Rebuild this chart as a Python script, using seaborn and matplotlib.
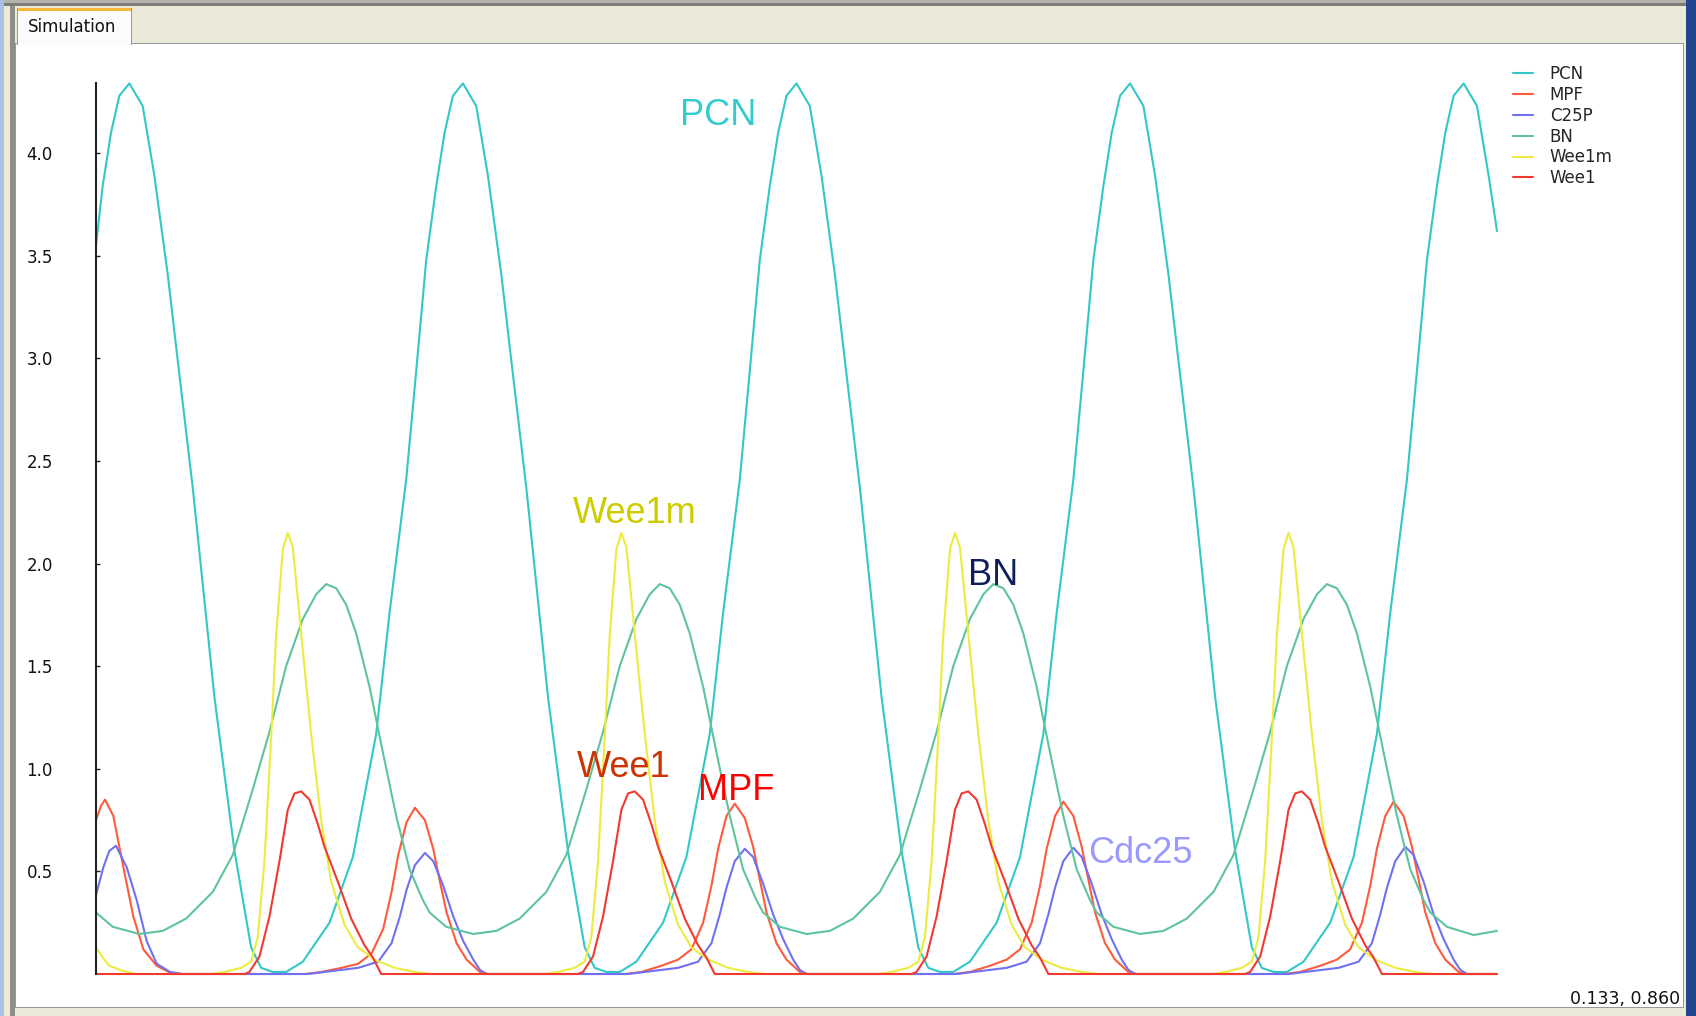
import matplotlib.pyplot as plt
import matplotlib.patches as mpatches
from matplotlib.lines import Line2D
import seaborn as sns
import pandas as pd

W, H = 1696, 1016

# series in legend order, colours
species = ['PCN', 'MPF', 'C25P', 'BN', 'Wee1m', 'Wee1']
colors = {'PCN': '#33C8C8', 'MPF': '#FF5A3C', 'C25P': '#7070F2',
          'BN': '#5EC49E', 'Wee1m': '#ECEC40', 'Wee1': '#F03A30'}

# simulation output (time in arbitrary units, ~100 per cycle)
pcn_t = [0,
         2, 4.5, 7, 10, 14, 17.5, 21.5, 24.5, 29, 35.5, 41.5, 46.5, 49.5, 53, 57, 62, 70, 77, 84, 88, 93, 96, 99,
         102, 104.5, 107, 110, 114, 117.5, 121.5, 124.5, 129, 135.5, 141.5, 146.5, 149.5, 153, 157, 162, 170, 177, 184, 188, 193, 196, 199,
         202, 204.5, 207, 210, 214, 217.5, 221.5, 224.5, 229, 235.5, 241.5, 246.5, 249.5, 253, 257, 262, 270, 277, 284, 288, 293, 296, 299,
         302, 304.5, 307, 310, 314, 317.5, 321.5, 324.5, 329, 335.5, 341.5, 346.5, 349.5, 353, 357, 362, 370, 377, 384, 388, 393, 396, 399,
         402, 404.5, 407, 410, 414, 417.5, 420]
pcn_v = [3.55,
         3.84, 4.10, 4.28, 4.34, 4.23, 3.89, 3.41, 2.99, 2.37, 1.35, 0.60, 0.13, 0.03, 0.01, 0.01, 0.06, 0.25, 0.57, 1.17, 1.76, 2.41, 2.94, 3.48,
         3.84, 4.10, 4.28, 4.34, 4.23, 3.89, 3.41, 2.99, 2.37, 1.35, 0.60, 0.13, 0.03, 0.01, 0.01, 0.06, 0.25, 0.57, 1.17, 1.76, 2.41, 2.94, 3.48,
         3.84, 4.10, 4.28, 4.34, 4.23, 3.89, 3.41, 2.99, 2.37, 1.35, 0.60, 0.13, 0.03, 0.01, 0.01, 0.06, 0.25, 0.57, 1.17, 1.76, 2.41, 2.94, 3.48,
         3.84, 4.10, 4.28, 4.34, 4.23, 3.89, 3.41, 2.99, 2.37, 1.35, 0.60, 0.13, 0.03, 0.01, 0.01, 0.06, 0.25, 0.57, 1.17, 1.76, 2.41, 2.94, 3.48,
         3.84, 4.10, 4.28, 4.34, 4.23, 3.89, 3.62]

mpf_t = [0, 1.5, 2.7, 5.2, 8.2, 11.2, 14.2, 18.2, 23,
         62.6, 67.6, 73.6, 78.6, 82.6, 86.1, 88.6, 90.6, 93.1, 95.6, 98.6, 101.1, 103.1, 105.1, 108.1, 111.1, 115.1, 117.6,
         158.5, 163.5, 169.5, 174.5, 178.5, 182, 184.5, 186.5, 189, 191.5, 194.5, 197, 199, 201, 204, 207, 211, 213.5,
         257, 262, 268, 273, 277, 280.5, 283, 285, 287.5, 290, 293, 295.5, 297.5, 299.5, 302.5, 305.5, 309.5, 312,
         356, 361, 367, 372, 376, 379.5, 382, 384, 386.5, 389, 392, 394.5, 396.5, 398.5, 401.5, 404.5, 408.5, 411,
         420]
mpf_v = [0.75, 0.82, 0.85, 0.77, 0.52, 0.28, 0.12, 0.04, 0.0,
         0.0, 0.01, 0.03, 0.05, 0.10, 0.22, 0.40, 0.58, 0.74, 0.81, 0.75, 0.61, 0.45, 0.30, 0.15, 0.07, 0.01, 0.0,
         0.0, 0.01, 0.04, 0.07, 0.12, 0.25, 0.43, 0.61, 0.77, 0.83, 0.76, 0.62, 0.46, 0.30, 0.15, 0.07, 0.01, 0.0,
         0.0, 0.01, 0.04, 0.07, 0.12, 0.25, 0.43, 0.61, 0.77, 0.84, 0.77, 0.62, 0.46, 0.30, 0.15, 0.07, 0.01, 0.0,
         0.0, 0.01, 0.04, 0.07, 0.12, 0.25, 0.43, 0.61, 0.77, 0.84, 0.77, 0.62, 0.46, 0.30, 0.15, 0.07, 0.01, 0.0,
         0.0]

c25p_t = [0, 2.2, 4, 6, 9.2, 12.2, 15.2, 18.2, 22.2, 26,
          63.6, 68.6, 78.6, 84.6, 88.6, 91.1, 93.1, 95.6, 98.6, 101.1, 104.1, 107.1, 110.1, 113.1, 115.1, 117.1,
          159.5, 164.5, 174.5, 180.5, 184.5, 187, 189, 191.5, 194.5, 197, 200, 203, 206, 209, 211, 213,
          258, 263, 273, 279, 283, 285.5, 287.5, 290, 293, 295.5, 298.5, 301.5, 304.5, 307.5, 309.5, 311.5,
          357.5, 362.5, 372.5, 378.5, 382.5, 385, 387, 389.5, 392.5, 395, 398, 401, 404, 407, 409, 411,
          420]
c25p_v = [0.385, 0.52, 0.60, 0.625, 0.52, 0.36, 0.16, 0.05, 0.01, 0.0,
          0.0, 0.01, 0.03, 0.06, 0.15, 0.28, 0.41, 0.53, 0.59, 0.55, 0.43, 0.28, 0.16, 0.07, 0.02, 0.0,
          0.0, 0.01, 0.03, 0.06, 0.15, 0.29, 0.42, 0.55, 0.61, 0.57, 0.44, 0.29, 0.17, 0.07, 0.02, 0.0,
          0.0, 0.01, 0.03, 0.06, 0.15, 0.29, 0.42, 0.55, 0.615, 0.57, 0.44, 0.29, 0.17, 0.07, 0.02, 0.0,
          0.0, 0.01, 0.03, 0.06, 0.15, 0.29, 0.42, 0.55, 0.62, 0.58, 0.45, 0.29, 0.17, 0.07, 0.02, 0.0,
          0.0]

bn_t = [0, 5, 13, 20, 27, 35, 41, 47, 52, 57, 62, 66, 69, 72, 75, 78, 82, 86, 90, 94, 98,
        100, 105, 113, 120, 127, 135, 141, 147, 152, 157, 162, 166, 169, 172, 175, 178, 182, 186, 190, 194, 198,
        200, 205, 213, 220, 227, 235, 241, 247, 252, 257, 262, 266, 269, 272, 275, 278, 282, 286, 290, 294, 298,
        300, 305, 313, 320, 327, 335, 341, 347, 352, 357, 362, 366, 369, 372, 375, 378, 382, 386, 390, 394, 398,
        400, 405, 413, 420]
bn_v = [0.30, 0.23, 0.195, 0.21, 0.27, 0.40, 0.58, 0.90, 1.18, 1.50, 1.73, 1.85, 1.90, 1.88, 1.80, 1.66, 1.40, 1.08, 0.77, 0.51, 0.36,
        0.30, 0.23, 0.195, 0.21, 0.27, 0.40, 0.58, 0.90, 1.18, 1.50, 1.73, 1.85, 1.90, 1.88, 1.80, 1.66, 1.40, 1.08, 0.77, 0.51, 0.36,
        0.30, 0.23, 0.195, 0.21, 0.27, 0.40, 0.58, 0.90, 1.18, 1.50, 1.73, 1.85, 1.90, 1.88, 1.80, 1.66, 1.40, 1.08, 0.77, 0.51, 0.36,
        0.30, 0.23, 0.195, 0.21, 0.27, 0.40, 0.58, 0.90, 1.18, 1.50, 1.73, 1.85, 1.90, 1.88, 1.80, 1.66, 1.40, 1.08, 0.77, 0.51, 0.36,
        0.30, 0.23, 0.19, 0.21]

wee1m_t = [0, 2, 4, 8, 12,
           34.5, 38.5, 43.5, 46.5, 48.5, 50.5, 52.5, 54, 56, 57.5, 59, 61.5, 64.5, 67.5, 70.5, 74.5, 78.5, 83.5, 89.5, 95.5, 100.5,
           134.5, 138.5, 143.5, 146.5, 148.5, 150.5, 152.5, 154, 156, 157.5, 159, 161.5, 164.5, 167.5, 170.5, 174.5, 178.5, 183.5, 189.5, 195.5, 200.5,
           234.5, 238.5, 243.5, 246.5, 248.5, 250.5, 252.5, 254, 256, 257.5, 259, 261.5, 264.5, 267.5, 270.5, 274.5, 278.5, 283.5, 289.5, 295.5, 300.5,
           334.5, 338.5, 343.5, 346.5, 348.5, 350.5, 352.5, 354, 356, 357.5, 359, 361.5, 364.5, 367.5, 370.5, 374.5, 378.5, 383.5, 389.5, 395.5, 400.5,
           420]
wee1m_v = [0.13, 0.08, 0.04, 0.015, 0.0,
           0.0, 0.01, 0.03, 0.06, 0.18, 0.55, 1.15, 1.65, 2.07, 2.15, 2.08, 1.66, 1.17, 0.75, 0.45, 0.24, 0.13, 0.07, 0.03, 0.01, 0.0,
           0.0, 0.01, 0.03, 0.06, 0.18, 0.55, 1.15, 1.65, 2.07, 2.15, 2.08, 1.66, 1.17, 0.75, 0.45, 0.24, 0.13, 0.07, 0.03, 0.01, 0.0,
           0.0, 0.01, 0.03, 0.06, 0.18, 0.55, 1.15, 1.65, 2.07, 2.15, 2.08, 1.66, 1.17, 0.75, 0.45, 0.24, 0.13, 0.07, 0.03, 0.01, 0.0,
           0.0, 0.01, 0.03, 0.06, 0.18, 0.55, 1.15, 1.65, 2.07, 2.15, 2.08, 1.66, 1.17, 0.75, 0.45, 0.24, 0.13, 0.07, 0.03, 0.01, 0.0,
           0.0]

wee1_t = [0,
          44.5, 46, 49, 52, 55, 57.5, 59.5, 61.5, 64, 66.5, 68.5, 72.5, 76.5, 80.5, 83, 85.5,
          144.5, 146, 149, 152, 155, 157.5, 159.5, 161.5, 164, 166.5, 168.5, 172.5, 176.5, 180.5, 183, 185.5,
          244.5, 246, 249, 252, 255, 257.5, 259.5, 261.5, 264, 266.5, 268.5, 272.5, 276.5, 280.5, 283, 285.5,
          344.5, 346, 349, 352, 355, 357.5, 359.5, 361.5, 364, 366.5, 368.5, 372.5, 376.5, 380.5, 383, 385.5,
          420]
wee1_v = [0.0,
          0.0, 0.01, 0.085, 0.28, 0.55, 0.80, 0.88, 0.89, 0.85, 0.73, 0.62, 0.45, 0.27, 0.14, 0.08, 0.0,
          0.0, 0.01, 0.085, 0.28, 0.55, 0.80, 0.88, 0.89, 0.85, 0.73, 0.62, 0.45, 0.27, 0.14, 0.08, 0.0,
          0.0, 0.01, 0.085, 0.28, 0.55, 0.80, 0.88, 0.89, 0.85, 0.73, 0.62, 0.45, 0.27, 0.14, 0.08, 0.0,
          0.0, 0.01, 0.085, 0.28, 0.55, 0.80, 0.88, 0.89, 0.85, 0.73, 0.62, 0.45, 0.27, 0.14, 0.08, 0.0,
          0.0]

yticks = [0.5, 1.0, 1.5, 2.0, 2.5, 3.0, 3.5, 4.0]

# long table for seaborn
series = {'PCN': (pcn_t, pcn_v), 'MPF': (mpf_t, mpf_v), 'C25P': (c25p_t, c25p_v),
          'BN': (bn_t, bn_v), 'Wee1m': (wee1m_t, wee1m_v), 'Wee1': (wee1_t, wee1_v)}
df = pd.concat([pd.DataFrame({'time': t, 'value': v, 'species': k}) for k, (t, v) in series.items()])

sns.set_theme(style='white')
plt.rcParams['font.family'] = ['DejaVu Sans']

fig = plt.figure(figsize=(W / 100, H / 100), dpi=100, facecolor='#ECE9D8')


def px_rect(x0, y0, x1, y1, color):
    # rectangle in screen pixels (y measured from the top)
    fig.patches.append(mpatches.Rectangle((x0 / W, 1 - y1 / H), (x1 - x0) / W, (y1 - y0) / H,
                                          transform=fig.transFigure, facecolor=color,
                                          edgecolor='none', zorder=-5))


# window chrome
px_rect(0, 0, W, 3, '#B4B4AC')
px_rect(0, 3, W, 6, '#7C7C78')
px_rect(0, 0, 4, H, '#A9C1E4')
px_rect(10, 6, 15, H, '#8E8E88')
px_rect(15, 43, 1684, 1008, '#919B9C')
px_rect(16, 44, 1683, 1007, 'white')
px_rect(1686, 0, W, H, '#22468E')
px_rect(17, 8, 132, 45, '#919B9C')
px_rect(18, 9, 131, 45, '#FBFBFD')
px_rect(18, 8, 131, 11, '#F6B83A')
fig.text(28 / W, 1 - 32 / H, 'Simulation', fontsize=12, color='#111111', va='baseline')

# plot area: y axis at x=96 px, value 0 at y=974 px, 205.2 px per unit
ax = fig.add_axes([96 / W, (H - 974) / H, (1497 - 96) / W, (974 - 83) / H])
ax.patch.set_visible(False)
sns.lineplot(data=df, x='time', y='value', hue='species', hue_order=species,
             palette=colors, estimator=None, sort=False, linewidth=1.5,
             legend=False, ax=ax)
for line in ax.lines:
    line.set_clip_on(False)

ax.set_xlim(0, 420)
ax.set_ylim(0, 891 / 205.2)
ax.set_xticks([])
ax.set_yticks(yticks)
ax.set_yticklabels([f'{v:.1f}' for v in yticks])
ax.set_xlabel('')
ax.set_ylabel('')
for side in ['top', 'right', 'bottom']:
    ax.spines[side].set_visible(False)
ax.spines['left'].set_color('#222222')
ax.spines['left'].set_linewidth(1.5)
ax.tick_params(axis='y', direction='in', length=3, width=1, color='#222222',
               labelsize=12, labelcolor='#111111', pad=31, left=True)

# legend in the top right corner
handles = [Line2D([], [], color=colors[s], linewidth=1.5) for s in species]
fig.legend(handles, species, loc='upper left', bbox_to_anchor=(1513 / W, 1 - 65 / H),
           frameon=False, fontsize=12, borderpad=0, borderaxespad=0,
           handlelength=1.2, handletextpad=1.0, labelspacing=0.17)

# annotations written over the curves
labels = [('PCN', 680, 125, '#33CCCC'), ('Wee1m', 573, 523, '#CCCC00'),
          ('Wee1', 577, 777, '#CC3300'), ('MPF', 698, 800, '#FF0000'),
          ('BN', 968, 585, '#0D1F5C'), ('Cdc25', 1088, 863, '#9999FF')]
for text, x, y, c in labels:
    fig.text(x / W, 1 - y / H, text, fontsize=26, color=c, va='baseline',
             family=['Liberation Sans', 'DejaVu Sans'])

fig.text(1680 / W, 1 - 1004 / H, '0.133, 0.860', fontsize=12.5, color='#111111',
         ha='right', va='baseline')

plt.savefig('out.png', dpi=100, facecolor=fig.get_facecolor())
